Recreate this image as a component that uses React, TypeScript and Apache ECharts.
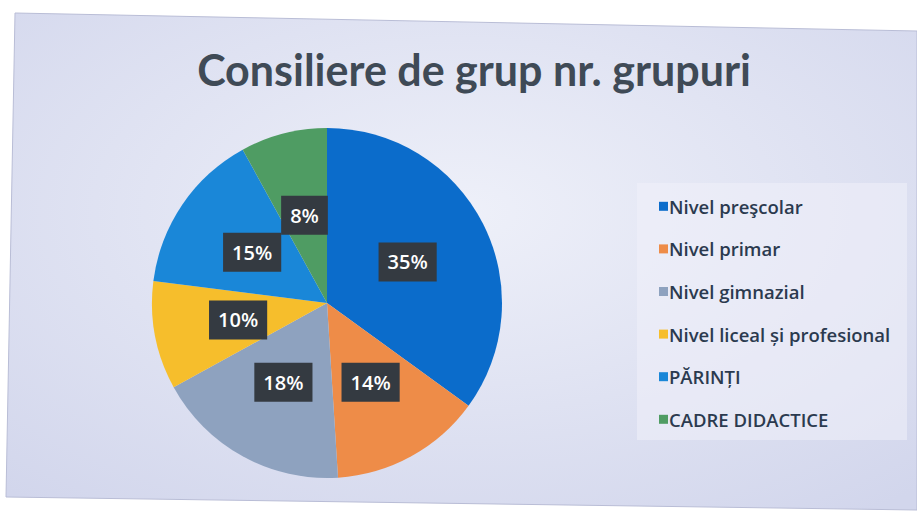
import React, { useEffect, useRef } from "react";
import * as echarts from "echarts";

const TITLE = "Consiliere de grup nr. grupuri";
const categories = [
  "Nivel preşcolar",
  "Nivel primar",
  "Nivel gimnazial",
  "Nivel liceal și profesional",
  "PĂRINȚI",
  "CADRE DIDACTICE",
];
const values = [35, 14, 18, 10, 15, 8];
const colors = ["#0b6ccb", "#ee8c48", "#8ea2bf", "#f6be2c", "#1a87d8", "#4f9c63"];

export default function App() {
  const ref = useRef<HTMLDivElement>(null);
  useEffect(() => {
    if (!ref.current) return;
    const chart = echarts.init(ref.current, undefined, { renderer: "svg" });
    chart.setOption({
      animation: false,
      backgroundColor: "#ffffff",
      graphic: [
        {
          type: "polygon",
          z: -10,
          shape: { points: [[15, 13], [917, 31], [917, 510], [6, 497]] },
          style: {
            fill: {
              type: "radial",
              x: 0.5,
              y: 0.4,
              r: 0.75,
              colorStops: [
                { offset: 0, color: "#eef0f9" },
                { offset: 1, color: "#d2d6ec" },
              ],
            },
            stroke: "#b9bdd6",
            lineWidth: 1,
          },
        },
        {
          type: "rect",
          z: -9,
          shape: { x: 637, y: 183, width: 270, height: 257 },
          style: { fill: "rgba(240,241,250,0.55)" },
        },
      ],
      title: {
        text: TITLE,
        left: 469,
        top: 43,
        textAlign: "center",
        textStyle: {
          fontFamily: "Lato",
          fontWeight: "bold",
          fontSize: 43,
          color: "#3f4a56",
        },
      },
      legend: {
        orient: "vertical",
        left: 654,
        top: 191,
        itemWidth: 9,
        itemHeight: 9,
        itemGap: 22,
        icon: "rect",
        data: categories,
        textStyle: {
          fontFamily: "Open Sans",
          fontWeight: 600,
          fontSize: 18.5,
          lineHeight: 20.6,
          color: "#2b3a4f",
          padding: [0, 0, 0, -4],
        },
      },
      series: [
        {
          type: "pie",
          center: [327, 303],
          radius: 175,
          startAngle: 90,
          clockwise: true,
          color: colors,
          avoidLabelOverlap: false,
          labelLayout: { hideOverlap: false },
          data: categories.map((name, i) => ({ name, value: values[i] })),
          itemStyle: { borderWidth: 0 },
          label: {
            show: true,
            position: "inside",
            formatter: (p: any) => `${Math.round(p.percent)}%`,
            backgroundColor: "#343a41",
            color: "#ffffff",
            fontFamily: "Open Sans",
            fontWeight: 600,
            fontSize: 20,
            padding: [10, 9, 9, 9],
          },
          labelLine: { show: false },
          emphasis: { disabled: true },
        },
      ],
    });
    return () => chart.dispose();
  }, []);
  return (
    <div
      ref={ref}
      style={{ position: "fixed", left: 0, top: 0, width: 917, height: 514 }}
    />
  );
}
